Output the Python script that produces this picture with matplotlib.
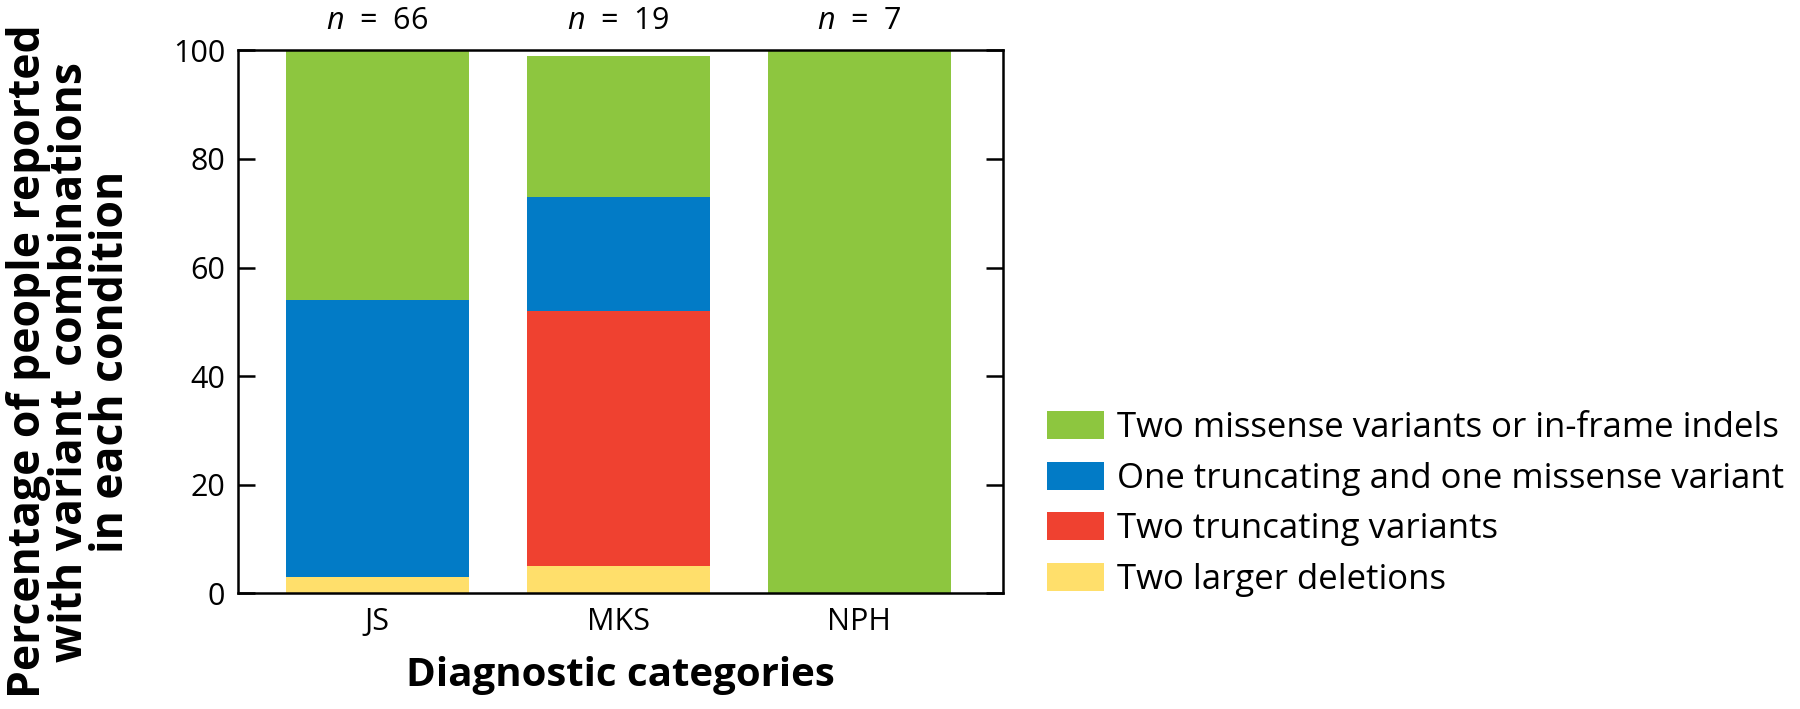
import matplotlib
matplotlib.use("Agg")
import matplotlib.pyplot as plt
from matplotlib.patches import Patch
import numpy as np

categories = ["JS", "MKS", "NPH"]
n_values = [66, 19, 7]
series_labels = ["Two larger deletions", "Two truncating variants",
                 "One truncating and one missense variant",
                 "Two missense variants or in-frame indels"]
larger_deletions = [3, 5, 0]
two_truncating = [0, 47, 0]
trunc_missense = [51, 21, 0]
two_missense = [46, 26, 100]
colors = ["#ffdf6b", "#ef4130", "#027bc6", "#8dc63f"]

FONT = ["Open Sans", "DejaVu Sans"]
plt.rcParams['font.family'] = FONT
plt.rcParams['mathtext.fontset'] = 'custom'
plt.rcParams['mathtext.it'] = 'Open Sans:italic'
plt.rcParams['mathtext.rm'] = 'Open Sans'

fig = plt.figure(figsize=(18, 7.09), dpi=100)
ax = fig.add_axes([0.132, 0.163, 0.425, 0.766])

x = np.arange(len(categories))
width = 0.76
bottom = np.zeros(len(categories))
for vals, c in zip([larger_deletions, two_truncating, trunc_missense, two_missense], colors):
    ax.bar(x, vals, width, bottom=bottom, color=c, edgecolor='none')
    bottom += np.array(vals)

ax.set_xlim(-0.58, 2.595)
ax.set_ylim(0, 100)
ax.set_yticks([0, 20, 40, 60, 80, 100])
ax.set_xticks(x)
ax.set_xticklabels(categories)
for s in ax.spines.values():
    s.set_linewidth(1.8)
ax.tick_params(axis='y', direction='in', length=12, width=1.8, labelsize=22,
               right=True, pad=9)
ax.tick_params(axis='x', length=0, labelsize=22, pad=10)

for xi, n in zip(x, n_values):
    ax.text(xi, 102.6, f"$n$  =  {n}", ha='center', va='bottom', fontsize=22)

ax.set_xlabel("Diagnostic categories", fontsize=29, fontweight='bold')
ax.xaxis.set_label_coords(0.5, -0.115)
ax.set_ylabel("Percentage of people reported\nwith variant  combinations\nin each condition",
              fontsize=32, fontweight='bold', linespacing=0.9)
ax.yaxis.set_label_coords(-0.135, 0.427)

handles = [Patch(facecolor=c, edgecolor='none') for c in colors[::-1]]
fig.legend(handles, series_labels[::-1], loc='center left',
           bbox_to_anchor=(0.5817, 0.289), frameon=False, fontsize=25,
           handlelength=1.64, handleheight=0.86, labelspacing=0.48,
           handletextpad=0.37, borderpad=0, borderaxespad=0)

fig.savefig("out.png", dpi=100)
